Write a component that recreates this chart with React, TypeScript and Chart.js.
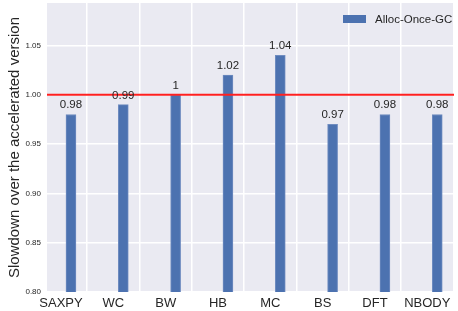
import React, { useEffect, useRef } from "react";
import { Chart, registerables } from "chart.js";

Chart.register(...registerables);

const categories = ["SAXPY", "WC", "BW", "HB", "MC", "BS", "DFT", "NBODY"];
const slowdown = [0.98, 0.99, 1.0, 1.02, 1.04, 0.97, 0.98, 0.98];
const valueLabels = ["0.98", "0.99", "1", "1.02", "1.04", "0.97", "0.98", "0.98"];
const yTicks = [0.8, 0.85, 0.9, 0.95, 1.0, 1.05];
const referenceLine = 1.0;
const seriesName = "Alloc-Once-GC";
const yTitle = "Slowdown over the accelerated version";

const BAR_COLOR = "#4C72B0";
const TEXT = "#262626";
const FONT = "'Liberation Sans', Arial, sans-serif";

export default function App() {
  const ref = useRef<HTMLCanvasElement | null>(null);

  useEffect(() => {
    const canvas = ref.current;
    if (!canvas) return;

    const bgPlugin = {
      id: "bg",
      beforeDraw(chart: any) {
        const { ctx, chartArea } = chart;
        ctx.save();
        ctx.fillStyle = "#EAEAF2";
        ctx.fillRect(chartArea.left, chartArea.top, chartArea.right - chartArea.left, chartArea.bottom - chartArea.top);
        ctx.restore();
      },
    };

    const overlayPlugin = {
      id: "overlay",
      afterDatasetsDraw(chart: any) {
        const { ctx, chartArea, scales } = chart;
        const y = scales.y.getPixelForValue(referenceLine);
        ctx.save();
        ctx.strokeStyle = "#FF2020";
        ctx.lineWidth = 2;
        ctx.beginPath();
        ctx.moveTo(chartArea.left, y);
        ctx.lineTo(chartArea.right, y);
        ctx.stroke();
        const meta = chart.getDatasetMeta(0);
        ctx.fillStyle = TEXT;
        ctx.font = `11.5px ${FONT}`;
        ctx.textAlign = "center";
        ctx.textBaseline = "alphabetic";
        meta.data.forEach((bar: any, i: number) => {
          ctx.fillText(valueLabels[i], bar.x, bar.y - 6);
        });
        const bx = chartArea.right - 111;
        const by = chartArea.top + 12;
        ctx.fillStyle = BAR_COLOR;
        ctx.fillRect(bx, by, 23, 8);
        ctx.fillStyle = TEXT;
        ctx.textAlign = "left";
        ctx.textBaseline = "middle";
        ctx.fillText(seriesName, bx + 32, by + 4.5);
        ctx.restore();
      },
    };

    const chart = new Chart(canvas, {
      type: "bar",
      data: {
        datasets: [
          {
            label: seriesName,
            data: slowdown.map((v, i) => ({ x: i + 0.19, y: v })),
            backgroundColor: BAR_COLOR,
            borderColor: "#6F8CC0",
            borderWidth: 1,
            barThickness: 10,
          },
        ],
      },
      options: {
        animation: false,
        responsive: false,
        maintainAspectRatio: false,
        layout: { padding: { top: 3, right: 4, left: 0, bottom: 0 } },
        plugins: {
          legend: { display: false },
          tooltip: { enabled: false },
        },
        scales: {
          x: {
            type: "linear",
            min: -0.268,
            max: 7.51,
            offset: false,
            afterBuildTicks(scale: any) {
              scale.ticks = categories.map((_, i) => ({ value: i }));
            },
            afterFit(scale: any) {
              scale.height = 19;
              scale.paddingLeft = 0;
              scale.paddingRight = 0;
            },
            ticks: {
              autoSkip: false,
              maxRotation: 0,
              padding: 4,
              color: TEXT,
              font: { family: FONT, size: 13 },
              callback: (v: any) => categories[v] ?? "",
            },
            grid: { color: "#FFFFFF", lineWidth: 1.5, drawTicks: false },
            border: { display: false },
          },
          y: {
            type: "linear",
            min: 0.8,
            max: 1.093,
            afterBuildTicks(scale: any) {
              scale.ticks = yTicks.map((v) => ({ value: v }));
            },
            afterFit(scale: any) {
              scale.width = 47;
              scale.paddingTop = 0;
              scale.paddingBottom = 0;
            },
            ticks: {
              padding: 6,
              color: TEXT,
              font: { family: FONT, size: 8 },
              callback: (v: any) => Number(v).toFixed(2),
            },
            grid: { color: "#FFFFFF", lineWidth: 1.5, drawTicks: false },
            border: { display: false },
            title: {
              display: true,
              text: yTitle,
              color: TEXT,
              font: { family: FONT, size: 15, lineHeight: 1.2 },
              padding: { top: 6, bottom: 0 },
            },
          },
        },
      },
      plugins: [bgPlugin, overlayPlugin],
    });

    return () => chart.destroy();
  }, []);

  return (
    <div style={{ position: "fixed", left: 0, top: 0, width: 458, height: 311, background: "#fff" }}>
      <canvas ref={ref} width={458} height={311} style={{ display: "block", width: 458, height: 311 }} />
    </div>
  );
}
